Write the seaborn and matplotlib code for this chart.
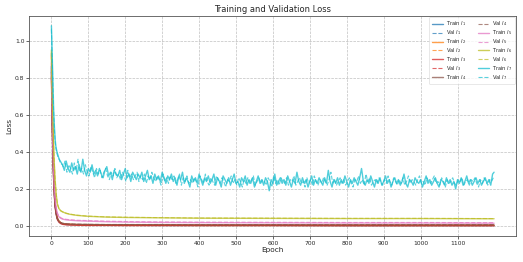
import matplotlib
matplotlib.use("Agg")
import matplotlib.pyplot as plt
import seaborn as sns

sns.set_style("ticks")

# epochs for the smooth curves
epochs_smooth = [0, 2, 4, 6, 8, 10, 13, 16, 20, 25, 30, 40, 50, 70, 100, 150,
                 200, 300, 400, 600, 800, 1000, 1199]

train_l1 = [0.86, 0.60, 0.40, 0.26, 0.17, 0.11, 0.065, 0.040, 0.024, 0.015, 0.011, 0.008,
            0.007, 0.006, 0.005, 0.004, 0.004, 0.003, 0.003, 0.003, 0.002, 0.002, 0.002]
val_l1 = [0.85, 0.59, 0.40, 0.26, 0.17, 0.11, 0.066, 0.041, 0.025, 0.016, 0.012, 0.009,
          0.008, 0.007, 0.006, 0.005, 0.005, 0.004, 0.004, 0.004, 0.003, 0.003, 0.003]
train_l2 = [0.93, 0.66, 0.45, 0.30, 0.20, 0.13, 0.075, 0.045, 0.027, 0.017, 0.012, 0.009,
            0.008, 0.006, 0.005, 0.005, 0.004, 0.004, 0.003, 0.003, 0.003, 0.003, 0.003]
val_l2 = [0.92, 0.65, 0.45, 0.30, 0.20, 0.13, 0.077, 0.047, 0.029, 0.019, 0.014, 0.011,
          0.010, 0.008, 0.007, 0.006, 0.006, 0.005, 0.005, 0.005, 0.004, 0.004, 0.004]
train_l3 = [0.80, 0.55, 0.37, 0.25, 0.16, 0.10, 0.060, 0.035, 0.021, 0.013, 0.009, 0.006,
            0.005, 0.004, 0.003, 0.003, 0.002, 0.002, 0.002, 0.002, 0.001, 0.001, 0.001]
val_l3 = [0.81, 0.56, 0.38, 0.25, 0.17, 0.11, 0.065, 0.040, 0.025, 0.017, 0.013, 0.010,
          0.009, 0.008, 0.007, 0.006, 0.006, 0.005, 0.005, 0.005, 0.005, 0.005, 0.005]
train_l4 = [0.83, 0.58, 0.39, 0.26, 0.17, 0.11, 0.066, 0.040, 0.026, 0.018, 0.014, 0.011,
            0.010, 0.009, 0.008, 0.007, 0.007, 0.007, 0.006, 0.006, 0.006, 0.006, 0.006]
val_l4 = [0.84, 0.59, 0.40, 0.27, 0.18, 0.12, 0.068, 0.042, 0.027, 0.019, 0.015, 0.012,
          0.011, 0.010, 0.009, 0.008, 0.008, 0.008, 0.007, 0.007, 0.007, 0.007, 0.007]
train_l5 = [0.88, 0.64, 0.45, 0.31, 0.21, 0.145, 0.095, 0.068, 0.050, 0.042, 0.037, 0.033,
            0.031, 0.028, 0.026, 0.023, 0.021, 0.019, 0.018, 0.017, 0.016, 0.016, 0.015]
val_l5 = [0.87, 0.63, 0.44, 0.30, 0.21, 0.150, 0.098, 0.070, 0.053, 0.045, 0.040, 0.036,
          0.034, 0.031, 0.029, 0.026, 0.024, 0.022, 0.021, 0.020, 0.019, 0.019, 0.018]
train_l6 = [0.95, 0.75, 0.58, 0.44, 0.33, 0.25, 0.17, 0.12, 0.095, 0.082, 0.076, 0.068,
            0.063, 0.057, 0.052, 0.048, 0.046, 0.044, 0.042, 0.041, 0.040, 0.040, 0.039]
val_l6 = [0.94, 0.74, 0.57, 0.43, 0.33, 0.25, 0.17, 0.12, 0.096, 0.083, 0.077, 0.069,
          0.064, 0.058, 0.053, 0.049, 0.047, 0.045, 0.043, 0.042, 0.041, 0.041, 0.040]

# l7 is the noisy one, read every 5 epochs
epochs_l7_train = [0, 2, 4, 6, 8, 10, 12, 15, 18, 21, 24, 27] + list(range(30, 1196, 5)) + [1199]
train_l7 = [1.08, 0.93, 0.78, 0.63, 0.54, 0.47, 0.43, 0.40, 0.38, 0.36, 0.35, 0.34,
            0.33, 0.30, 0.35, 0.31, 0.29, 0.34, 0.30, 0.32, 0.28, 0.33,
            0.29, 0.36, 0.30, 0.27, 0.31, 0.29, 0.33, 0.28, 0.30, 0.27,
            0.31, 0.28, 0.26, 0.30, 0.32, 0.27, 0.29, 0.25, 0.30, 0.28,
            0.27, 0.30, 0.25, 0.28, 0.31, 0.26, 0.28, 0.24, 0.29, 0.27,
            0.25, 0.28, 0.26, 0.29, 0.24, 0.27, 0.30, 0.25, 0.27, 0.23,
            0.28, 0.25, 0.27, 0.24, 0.29, 0.26, 0.23, 0.27, 0.25, 0.28,
            0.24, 0.26, 0.22, 0.27, 0.25, 0.29, 0.23, 0.26, 0.24, 0.21,
            0.27, 0.24, 0.26, 0.23, 0.28, 0.25, 0.22, 0.26, 0.24, 0.27,
            0.23, 0.25, 0.28, 0.22, 0.26, 0.24, 0.21, 0.27, 0.25, 0.23,
            0.26, 0.22, 0.25, 0.28, 0.23, 0.24, 0.21, 0.26, 0.24, 0.27,
            0.22, 0.25, 0.23, 0.26, 0.21, 0.24, 0.27, 0.23, 0.25, 0.22,
            0.26, 0.24, 0.19, 0.25, 0.23, 0.28, 0.22, 0.24, 0.26, 0.23,
            0.25, 0.22, 0.27, 0.24, 0.21, 0.25, 0.23, 0.29, 0.24, 0.22,
            0.26, 0.23, 0.25, 0.21, 0.24, 0.27, 0.22, 0.25, 0.23, 0.26,
            0.24, 0.22, 0.26, 0.23, 0.30, 0.24, 0.21, 0.25, 0.23, 0.26,
            0.22, 0.25, 0.23, 0.27, 0.24, 0.21, 0.25, 0.23, 0.26, 0.24,
            0.22, 0.26, 0.31, 0.24, 0.22, 0.25, 0.23, 0.27, 0.24, 0.21,
            0.25, 0.23, 0.26, 0.22, 0.24, 0.27, 0.23, 0.25, 0.21, 0.24,
            0.26, 0.23, 0.25, 0.22, 0.24, 0.28, 0.23, 0.21, 0.25, 0.24,
            0.22, 0.26, 0.24, 0.23, 0.25, 0.21, 0.24, 0.27, 0.23, 0.25,
            0.22, 0.24, 0.26, 0.23, 0.21, 0.25, 0.24, 0.22, 0.26, 0.23,
            0.25, 0.22, 0.24, 0.20, 0.25, 0.23, 0.26, 0.22, 0.24, 0.27,
            0.23, 0.25, 0.22, 0.24, 0.26, 0.23, 0.25, 0.22, 0.24, 0.26,
            0.23, 0.25, 0.22, 0.28,
            0.29]
epochs_l7_val = [0, 2, 4, 6, 8, 10, 12, 15, 18, 21, 24, 27, 30] + list(range(32, 1198, 5))
val_l7 = [1.06, 0.90, 0.75, 0.61, 0.52, 0.46, 0.42, 0.39, 0.37, 0.36, 0.34, 0.335, 0.33,
          0.32, 0.35, 0.29, 0.33, 0.31, 0.28, 0.34, 0.30, 0.36, 0.29,
          0.31, 0.28, 0.33, 0.29, 0.27, 0.32, 0.29, 0.26, 0.31, 0.28,
          0.30, 0.26, 0.29, 0.31, 0.27, 0.25, 0.29, 0.27, 0.31, 0.26,
          0.28, 0.25, 0.29, 0.27, 0.24, 0.30, 0.26, 0.28, 0.25, 0.27,
          0.29, 0.24, 0.27, 0.25, 0.28, 0.23, 0.27, 0.25, 0.29, 0.26,
          0.24, 0.27, 0.25, 0.22, 0.28, 0.24, 0.26, 0.23, 0.27, 0.25,
          0.27, 0.23, 0.25, 0.28, 0.22, 0.26, 0.24, 0.27, 0.23, 0.25,
          0.23, 0.26, 0.24, 0.21, 0.27, 0.25, 0.23, 0.28, 0.24, 0.22,
          0.26, 0.24, 0.22, 0.27, 0.25, 0.23, 0.26, 0.24, 0.21, 0.25,
          0.24, 0.27, 0.23, 0.25, 0.22, 0.26, 0.24, 0.21, 0.25, 0.23,
          0.26, 0.23, 0.25, 0.27, 0.22, 0.24, 0.26, 0.23, 0.25, 0.24,
          0.22, 0.26, 0.24, 0.21, 0.27, 0.23, 0.25, 0.22, 0.26, 0.24,
          0.23, 0.26, 0.22, 0.25, 0.24, 0.27, 0.22, 0.24, 0.26, 0.23,
          0.24, 0.21, 0.26, 0.23, 0.25, 0.22, 0.27, 0.24, 0.22, 0.25,
          0.23, 0.26, 0.24, 0.22, 0.25, 0.29, 0.23, 0.25, 0.22, 0.24,
          0.26, 0.23, 0.25, 0.22, 0.24, 0.26, 0.23, 0.21, 0.25, 0.24,
          0.27, 0.23, 0.25, 0.22, 0.28, 0.24, 0.26, 0.22, 0.24, 0.25,
          0.23, 0.26, 0.24, 0.22, 0.25, 0.23, 0.27, 0.24, 0.22, 0.26,
          0.24, 0.22, 0.25, 0.23, 0.26, 0.22, 0.24, 0.27, 0.23, 0.25,
          0.24, 0.22, 0.25, 0.27, 0.23, 0.24, 0.22, 0.26, 0.24, 0.23,
          0.25, 0.27, 0.23, 0.24, 0.22, 0.26, 0.24, 0.21, 0.25, 0.23,
          0.24, 0.26, 0.23, 0.22, 0.25, 0.24, 0.26, 0.22, 0.24, 0.25,
          0.22, 0.25, 0.24, 0.26, 0.23, 0.21, 0.25, 0.23, 0.26, 0.24,
          0.22, 0.25, 0.24, 0.26]

series = [
    ("$l_1$", "#1f77b4", epochs_smooth, train_l1, epochs_smooth, val_l1),
    ("$l_2$", "#ff7f0e", epochs_smooth, train_l2, epochs_smooth, val_l2),
    ("$l_3$", "#d62728", epochs_smooth, train_l3, epochs_smooth, val_l3),
    ("$l_4$", "#8c564b", epochs_smooth, train_l4, epochs_smooth, val_l4),
    ("$l_5$", "#e377c2", epochs_smooth, train_l5, epochs_smooth, val_l5),
    ("$l_6$", "#bcbd22", epochs_smooth, train_l6, epochs_smooth, val_l6),
    ("$l_7$", "#17becf", epochs_l7_train, train_l7, epochs_l7_val, val_l7),
]

fig, ax = plt.subplots(figsize=(5.23, 2.62), dpi=100)

for name, color, ex_t, y_t, ex_v, y_v in series:
    sns.lineplot(x=ex_t, y=y_t, ax=ax, color=color, linewidth=1.0, alpha=0.75,
                 label=f"Train {name}")
    sns.lineplot(x=ex_v, y=y_v, ax=ax, color=color, linewidth=0.8, alpha=0.7,
                 linestyle="--", label=f"Val {name}")

ax.set_title("Training and Validation Loss", fontsize=6, pad=3)
ax.set_xlabel("Epoch", fontsize=5.3, labelpad=1)
ax.set_ylabel("Loss", fontsize=5.3, labelpad=2)
ax.set_xticks(list(range(0, 1101, 100)))
ax.tick_params(labelsize=4.3, length=2, width=0.5, pad=1.5)
for sp in ax.spines.values():
    sp.set_linewidth(0.6)
    sp.set_color("#555555")
ax.grid(True, linestyle="--", color="#b0b0b0", linewidth=0.5, alpha=0.8)
leg = ax.legend(loc="upper right", ncol=2, fontsize=3.7, framealpha=0.8,
                labelspacing=0.0, columnspacing=2.2, handlelength=2.1,
                handletextpad=0.7, borderpad=0.45, borderaxespad=0.3)
leg.get_frame().set_linewidth(0.4)

plt.subplots_adjust(left=0.056, right=0.987, top=0.94, bottom=0.1)
plt.savefig("out.png")
